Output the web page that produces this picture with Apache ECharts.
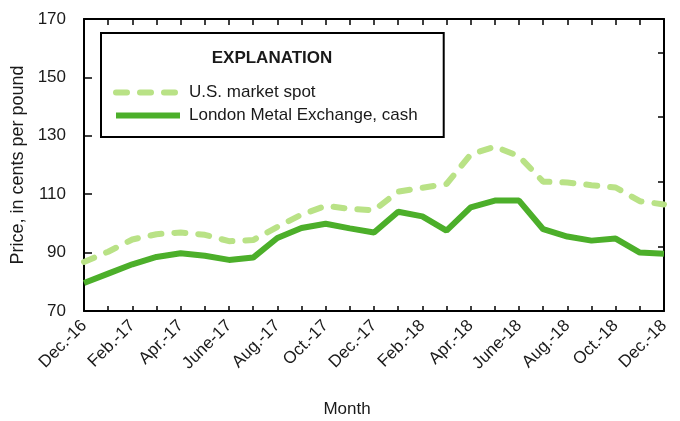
<!DOCTYPE html>
<html>
<head>
<meta charset="utf-8">
<script src="https://cdn.jsdelivr.net/npm/echarts@6/dist/echarts.min.js"></script>
<style>
html,body{margin:0;padding:0;background:#fff;}
#chart{width:680px;height:421px;}
</style>
</head>
<body>
<div id="chart"></div>
<script>
var months = ['Dec.-16','Jan.-17','Feb.-17','Mar.-17','Apr.-17','May-17','June-17','July-17','Aug.-17','Sept.-17','Oct.-17','Nov.-17','Dec.-17','Jan.-18','Feb.-18','Mar.-18','Apr.-18','May-18','June-18','July-18','Aug.-18','Sept.-18','Oct.-18','Nov.-18','Dec.-18'];
var usSpot = [86.8, 90.3, 94.5, 96.3, 96.9, 96.1, 93.9, 94.3, 98.8, 103.0, 106.0, 105.0, 104.5, 110.9, 112.2, 113.5, 123.6, 126.3, 123.0, 114.3, 114.0, 113.1, 112.3, 107.6, 106.5];
var lmeCash = [79.6, 82.8, 86.0, 88.5, 89.8, 88.9, 87.5, 88.3, 95.0, 98.4, 99.9, 98.3, 96.9, 104.0, 102.4, 97.5, 105.5, 107.8, 107.8, 98.0, 95.5, 94.1, 94.8, 90.0, 89.6];
var seriesNames = ['U.S. market spot', 'London Metal Exchange, cash'];
var yTicks = {min: 70, max: 170, interval: 20};

var FONT = "'Liberation Sans', Arial, sans-serif";
var chart = echarts.init(document.getElementById('chart'), null, {renderer: 'canvas'});
chart.setOption({
  animation: false,
  backgroundColor: '#fff',
  textStyle: {fontFamily: FONT, color: '#1a1a1a'},
  title: [
    {text: 'EXPLANATION', left: 267, top: 45, textAlign: 'center',
     textStyle: {fontFamily: FONT, fontSize: 17, fontWeight: 'bold', color: '#1a1a1a'}},
    {text: 'Month', left: 342, top: 396, textAlign: 'center',
     textStyle: {fontFamily: FONT, fontSize: 17, fontWeight: 'normal', color: '#1a1a1a'}}
  ],
  legend: {
    orient: 'vertical', left: 101, top: 33,
    padding: [51, 26, 13, 12],
    borderColor: '#000', borderWidth: 2,
    itemWidth: 64, itemHeight: 14, itemGap: 6,
    textStyle: {fontFamily: FONT, fontSize: 17, color: '#1a1a1a', padding: [0, 0, 0, 4]},
    lineStyle: {width: 6},
    itemStyle: {opacity: 0},
    data: seriesNames
  },
  grid: {left: 84, right: 16, top: 19, bottom: 110, containLabel: false},
  xAxis: [{
    type: 'category', data: months, boundaryGap: false, position: 'bottom',
    axisLine: {lineStyle: {color: '#000', width: 2}},
    axisTick: {inside: true, length: 5, interval: 0, lineStyle: {color: '#000', width: 1.5}},
    axisLabel: {interval: 1, rotate: 45, margin: 12, fontFamily: FONT, fontSize: 17, color: '#1a1a1a'},
    splitLine: {show: false}
  }, {
    type: 'category', data: months, boundaryGap: false, position: 'top',
    axisLine: {lineStyle: {color: '#000', width: 2}},
    axisTick: {inside: true, length: 6, interval: 0, lineStyle: {color: '#000', width: 1.5}},
    axisLabel: {show: false}, splitLine: {show: false}
  }],
  yAxis: [{
    type: 'value', min: yTicks.min, max: yTicks.max, interval: yTicks.interval,
    name: 'Price, in cents per pound', nameLocation: 'middle', nameGap: 44,
    nameTextStyle: {fontFamily: FONT, fontSize: 18, color: '#1a1a1a'},
    axisLine: {show: true, lineStyle: {color: '#000', width: 2}},
    axisTick: {show: true, inside: true, length: 8, lineStyle: {color: '#000', width: 1.5}},
    axisLabel: {margin: 18, fontFamily: FONT, fontSize: 17, color: '#1a1a1a'},
    splitLine: {show: false}
  }, {
    type: 'value', min: 0, max: 4.52, interval: 1, position: 'right',
    axisLine: {show: true, lineStyle: {color: '#000', width: 2}},
    axisTick: {show: true, inside: true, length: 6, lineStyle: {color: '#000', width: 1.5}},
    axisLabel: {show: false}, splitLine: {show: false}
  }],
  series: [{
    name: seriesNames[0], type: 'line', data: usSpot, symbol: 'none',
    lineStyle: {color: '#b9e286', width: 6, type: [11, 13], cap: 'round'},
    itemStyle: {color: '#b9e286'}, z: 2
  }, {
    name: seriesNames[1], type: 'line', data: lmeCash, symbol: 'none',
    lineStyle: {color: '#4caf2a', width: 6},
    itemStyle: {color: '#4caf2a'}, z: 3
  }]
});
</script>
</body>
</html>
